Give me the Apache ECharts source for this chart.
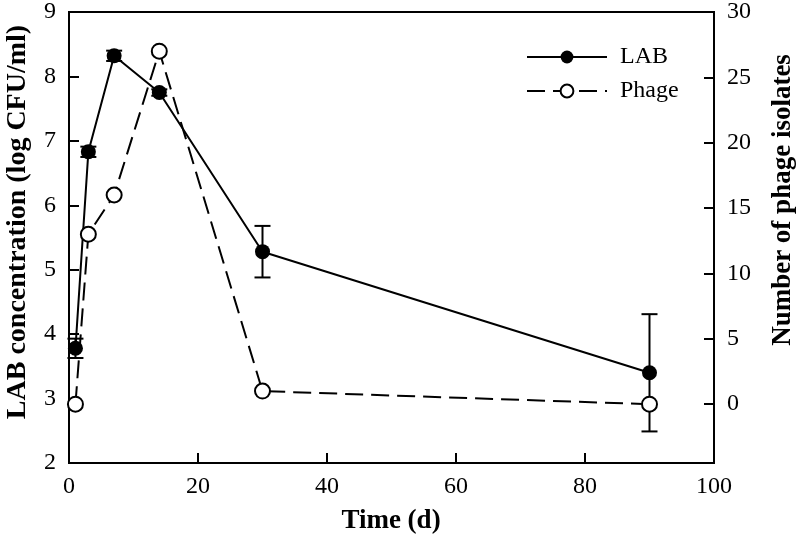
<!DOCTYPE html>
<html>
<head>
<meta charset="utf-8">
<script src="https://cdn.jsdelivr.net/npm/echarts@6/dist/echarts.min.js"></script>
<style>
  html, body { margin: 0; padding: 0; background: #fff; }
  #chart { width: 800px; height: 538px; }
</style>
</head>
<body>
<div id="chart"></div>
<script>
// sampling days
var days = [1, 3, 7, 14, 30, 90];
// LAB concentration (log CFU/ml) and its error
var labMean = [3.78, 6.83, 8.32, 7.75, 5.28, 3.40];
var labErr = [0.15, 0.08, 0.08, 0.05, 0.40, 0.91];
// number of phage isolates
var phageCount = [0, 13, 16, 27, 1, 0];
var xTicks = [0, 20, 40, 60, 80, 100];
var rightTicks = [0, 5, 10, 15, 20, 25, 30];

var FONT = '"Liberation Serif", "DejaVu Serif", serif';

var labData = days.map(function (d, i) { return [d, labMean[i]]; });
var phageData = days.map(function (d, i) { return [d, phageCount[i]]; });
var errData = days.map(function (d, i) {
  return [d, labMean[i] - labErr[i], labMean[i] + labErr[i]];
});

var chart = echarts.init(document.getElementById('chart'));

chart.setOption({
  animation: false,
  backgroundColor: '#fff',
  grid: {
    left: 69,
    right: 86,
    top: 11,
    bottom: 75,
    show: true,
    borderColor: '#000',
    borderWidth: 2,
    containLabel: false
  },
  legend: {
    orient: 'vertical',
    left: 521,
    top: 40,
    itemWidth: 80,
    itemHeight: 16,
    itemGap: 10,
    textStyle: { fontFamily: FONT, fontSize: 24, color: '#000', padding: [0, 0, 0, 8] },
    data: ['LAB', 'Phage']
  },
  xAxis: {
    type: 'value',
    min: 0,
    max: 100,
    interval: 20,
    axisLine: { onZero: false, lineStyle: { color: '#000', width: 2 } },
    axisTick: { inside: true, length: 10, lineStyle: { color: '#000', width: 2 } },
    axisLabel: {
      margin: 12,
      fontFamily: FONT, fontSize: 24, color: '#000',
      formatter: function (v) { return xTicks.indexOf(v) >= 0 ? v : ''; }
    },
    splitLine: { show: false }
  },
  yAxis: [
    {
      type: 'value',
      min: 2,
      max: 9,
      interval: 1,
      axisLine: { show: true, onZero: false, lineStyle: { color: '#000', width: 2 } },
      axisTick: { show: true, inside: true, length: 10, lineStyle: { color: '#000', width: 2 } },
      axisLabel: { margin: 13, fontFamily: FONT, fontSize: 24, color: '#000' },
      splitLine: { show: false }
    },
    {
      type: 'value',
      position: 'right',
      min: -4.5,
      max: 30,
      axisLine: { show: true, onZero: false, lineStyle: { color: '#000', width: 2 } },
      axisTick: {
        show: true, inside: true, length: 10,
        customValues: rightTicks,
        lineStyle: { color: '#000', width: 2 }
      },
      axisLabel: {
        margin: 13, fontFamily: FONT, fontSize: 24, color: '#000',
        customValues: rightTicks
      },
      splitLine: { show: false }
    }
  ],
  graphic: [
    {
      type: 'text',
      rotation: Math.PI / 2,
      x: 18, y: 222,
      style: {
        text: 'LAB concentration (log CFU/ml)',
        font: 'bold 28px ' + FONT,
        fill: '#000',
        textAlign: 'center',
        textVerticalAlign: 'middle'
      }
    },
    {
      type: 'text',
      rotation: Math.PI / 2,
      x: 783, y: 200,
      style: {
        text: 'Number of phage isolates',
        font: 'bold 27px ' + FONT,
        fill: '#000',
        textAlign: 'center',
        textVerticalAlign: 'middle'
      }
    },
    {
      type: 'text',
      x: 391, y: 521,
      style: {
        text: 'Time (d)',
        font: 'bold 27px ' + FONT,
        fill: '#000',
        textAlign: 'center',
        textVerticalAlign: 'middle'
      }
    }
  ],
  series: [
    {
      name: 'err',
      type: 'custom',
      yAxisIndex: 0,
      z: 2,
      silent: true,
      data: errData,
      renderItem: function (params, api) {
        var x = api.value(0);
        var lo = api.coord([x, api.value(1)]);
        var hi = api.coord([x, api.value(2)]);
        var w = 8;
        var st = { stroke: '#000', lineWidth: 2 };
        return {
          type: 'group',
          children: [
            { type: 'line', shape: { x1: lo[0], y1: lo[1], x2: hi[0], y2: hi[1] }, style: st },
            { type: 'line', shape: { x1: lo[0] - w, y1: lo[1], x2: lo[0] + w, y2: lo[1] }, style: st },
            { type: 'line', shape: { x1: hi[0] - w, y1: hi[1], x2: hi[0] + w, y2: hi[1] }, style: st }
          ]
        };
      }
    },
    {
      name: 'LAB',
      type: 'line',
      yAxisIndex: 0,
      z: 3,
      data: labData,
      symbol: 'circle',
      symbolSize: 15,
      itemStyle: { color: '#000' },
      lineStyle: { color: '#000', width: 2 }
    },
    {
      name: 'Phage',
      type: 'line',
      yAxisIndex: 1,
      z: 4,
      data: phageData,
      symbol: 'circle',
      symbolSize: 15,
      itemStyle: { color: '#fff', borderColor: '#000', borderWidth: 2 },
      lineStyle: { color: '#000', width: 2, type: [18, 8] }
    }
  ]
});
</script>
</body>
</html>
